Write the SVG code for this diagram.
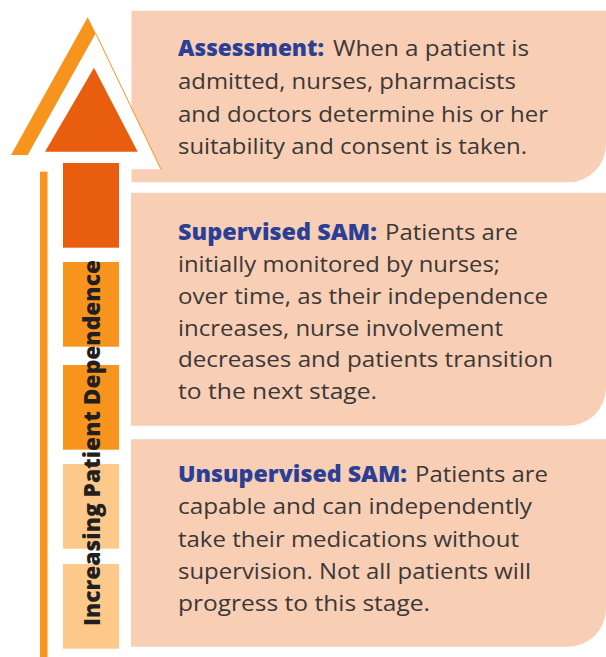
<svg xmlns="http://www.w3.org/2000/svg" width="606" height="657" viewBox="0 0 606 657">
<style>
.box{fill:#F8CEB5}
.t{font-family:"Open Sans","Noto Sans","Liberation Sans",sans-serif;font-size:22px;fill:#3B3838}
.h{font-family:"Open Sans","Noto Sans","Liberation Sans",sans-serif;font-size:22px;font-weight:800;fill:#2B3F95}
.v{font-family:"Open Sans","Noto Sans","Liberation Sans",sans-serif;font-size:22px;font-weight:800;fill:#231F20}
.red{fill:#E95D0F}
.org{fill:#F7941D}
.lt{fill:#FDC98B}
</style>
<rect width="606" height="657" fill="#FFFFFF"/>
<g id="connectors">
<rect class="org" x="40" y="171.7" width="7.5" height="486"/>
</g>
<g id="box-assessment">
<path class="box" d="M131.5,10.7 H606 V144 A38,38 0 0 1 568,182.3 H131.5 Z"/>
<text class="h" x="178" y="56" textLength="146" lengthAdjust="spacingAndGlyphs">Assessment:</text>
<text class="t" x="333" y="56" textLength="196" lengthAdjust="spacingAndGlyphs">When a patient is</text>
<text class="t" x="178" y="89" textLength="338" lengthAdjust="spacingAndGlyphs">admitted, nurses, pharmacists</text>
<text class="t" x="178" y="121.5" textLength="370" lengthAdjust="spacingAndGlyphs">and doctors determine his or her</text>
<text class="t" x="178" y="153.5" textLength="349" lengthAdjust="spacingAndGlyphs">suitability and consent is taken.</text>
</g>
<g id="box-supervised">
<path class="box" d="M131,192.7 H606 V388 A38,38 0 0 1 568,425.7 H131 Z"/>
<text class="h" x="178" y="239.5" textLength="199" lengthAdjust="spacingAndGlyphs">Supervised SAM:</text>
<text class="t" x="385" y="239.5" textLength="133" lengthAdjust="spacingAndGlyphs">Patients are</text>
<text class="t" x="178" y="271.5" textLength="322" lengthAdjust="spacingAndGlyphs">initially monitored by nurses;</text>
<text class="t" x="178" y="303.5" textLength="370" lengthAdjust="spacingAndGlyphs">over time, as their independence</text>
<text class="t" x="178" y="335.5" textLength="325" lengthAdjust="spacingAndGlyphs">increases, nurse involvement</text>
<text class="t" x="178" y="367" textLength="375" lengthAdjust="spacingAndGlyphs">decreases and patients transition</text>
<text class="t" x="178" y="399" textLength="199" lengthAdjust="spacingAndGlyphs">to the next stage.</text>
</g>
<g id="box-unsupervised">
<path class="box" d="M131,439.3 H606 V609 A38,38 0 0 1 568,646.7 H131 Z"/>
<text class="h" x="178" y="481.5" textLength="229" lengthAdjust="spacingAndGlyphs">Unsupervised SAM:</text>
<text class="t" x="415" y="481.5" textLength="133" lengthAdjust="spacingAndGlyphs">Patients are</text>
<text class="t" x="178" y="514" textLength="354" lengthAdjust="spacingAndGlyphs">capable and can independently</text>
<text class="t" x="178" y="546.5" textLength="341" lengthAdjust="spacingAndGlyphs">take their medications without</text>
<text class="t" x="178" y="579" textLength="353" lengthAdjust="spacingAndGlyphs">supervision. Not all patients will</text>
<text class="t" x="178" y="611" textLength="252" lengthAdjust="spacingAndGlyphs">progress to this stage.</text>
</g>
<g id="arrow">
<polygon points="95.7,33.3 161,169.3 27.7,169.3" fill="#FFFFFF"/>
<line x1="95.7" y1="33.3" x2="161" y2="169.3" stroke="#F7941D" stroke-width="1"/>
<polygon class="org" points="87.7,17.3 95.7,33.3 27.7,155 11,155"/>
<polygon class="red" points="94,67.7 137.7,151.7 45,151.7"/>
<rect class="red" x="63" y="163" width="56" height="84.7"/>
<rect class="org" x="63" y="262" width="56" height="84.7"/>
<rect class="org" x="63" y="365" width="56" height="84.7"/>
<rect class="lt" x="63" y="464" width="56" height="84.7"/>
<rect class="lt" x="63" y="564" width="56" height="84.7"/>
<text class="v" transform="translate(100,443) rotate(-90)" x="0" y="0" text-anchor="middle" textLength="366" lengthAdjust="spacingAndGlyphs">Increasing Patient Dependence</text>
</g>
</svg>
